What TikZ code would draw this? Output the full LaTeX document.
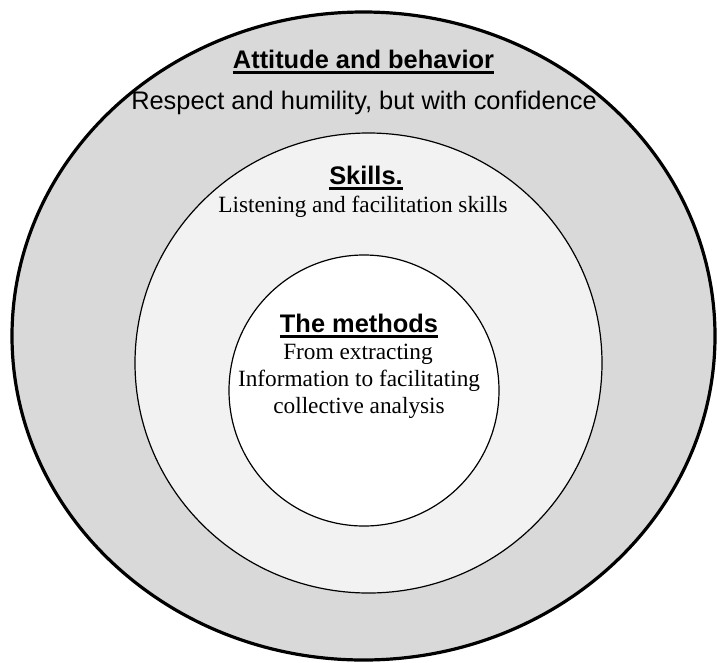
\documentclass[tikz,border=0pt]{standalone}
\usepackage{fontspec}
\setmainfont{Liberation Serif}
\setsansfont{Liberation Sans}
\usetikzlibrary{shapes.geometric}
\definecolor{outergray}{HTML}{D9D9D9}
\definecolor{midgray}{HTML}{F2F2F2}
\newcommand\myul[1]{\setbox0\hbox{#1}\rlap{\vrule height -3.3pt depth 5.6pt width \wd0}\box0}
\tikzset{
  ring/.style={ellipse, draw=black, inner sep=0pt, outer sep=0pt},
  headtxt/.style={anchor=base, inner sep=0pt, font=\sffamily\bfseries\fontsize{25.4}{30}\selectfont},
  sanstxt/.style={anchor=base, inner sep=0pt, font=\sffamily\fontsize{25.4}{30}\selectfont},
  seriftxt/.style={anchor=base, inner sep=0pt, font=\rmfamily\fontsize{23.3}{27}\selectfont}
}
\begin{document}
\begin{tikzpicture}[x=1pt,y=-1pt]
\useasboundingbox (0,0) rectangle (717,662);
\node[ring, fill=outergray, line width=3.2pt, minimum width=703pt, minimum height=648pt] (outer) at (363.5,336) {};
\node[ring, fill=midgray, line width=1.2pt, minimum width=467pt, minimum height=460pt] (middle) at (368.5,363) {};
\node[ring, fill=white, line width=1.2pt, minimum width=270pt, minimum height=271pt] (inner) at (364,390.5) {};
\node[headtxt] (t1) at (363.5,68) {\myul{Attitude and behavior}};
\node[sanstxt] (t1b) at (364,109) {Respect and humility, but with confidence};
\node[headtxt] (t2) at (366,184) {\myul{Skills.}};
\node[seriftxt] (t2b) at (363,212) {Listening and facilitation skills};
\node[headtxt] (t3) at (359,332) {\myul{The methods}};
\node[seriftxt] (t3a) at (358,359) {From extracting};
\node[seriftxt] (t3b) at (359,386) {Information to facilitating};
\node[seriftxt] (t3c) at (359,413) {collective analysis};
\end{tikzpicture}
\end{document}
